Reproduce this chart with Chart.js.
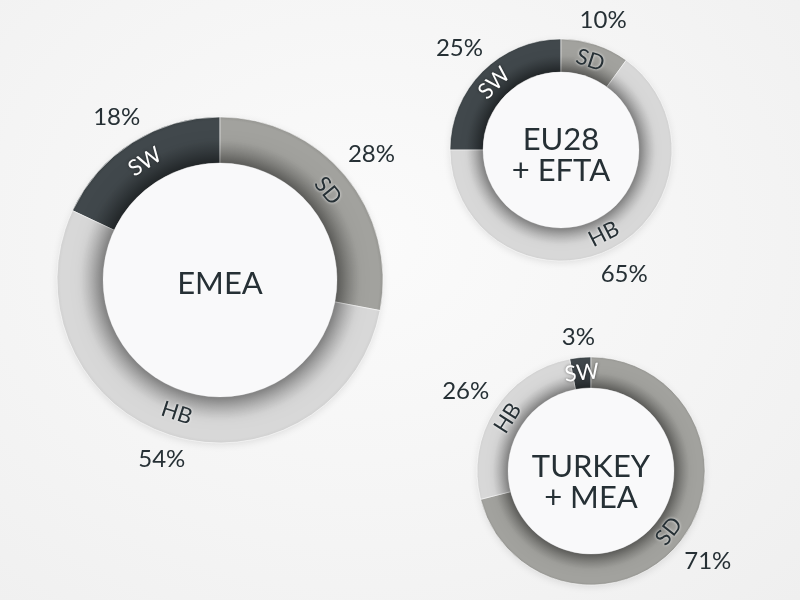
<!DOCTYPE html>
<html>
<head>
<meta charset="utf-8">
<script src="https://cdn.jsdelivr.net/npm/chart.js@4.4.1/dist/chart.umd.min.js"></script>
<style>
    html, body {
        margin: 0;
        padding: 0;
        width: 800px;
        height: 600px;
        overflow: hidden;
        background: radial-gradient(ellipse at 45% 40%, #fbfbfb 0%, #f4f4f4 60%, #efefef 100%);
    }
    .stage {
        position: relative;
        width: 800px;
        height: 600px;
    }
    .stage canvas {
        position: absolute;
        left: 0;
        top: 0;
    }
</style>
</head>
<body>
<div class="stage">
    <canvas id="emeaChart" width="800" height="600"></canvas>
    <canvas id="euChart" width="800" height="600"></canvas>
    <canvas id="turkeyChart" width="800" height="600"></canvas>
</div>
<script>
// Chart data
const segments = ['SW', 'SD', 'HB'];
const emeaShares = [18, 28, 54];
const euShares = [25, 10, 65];
const turkeyShares = [3, 71, 26];
const emeaTitle = ['EMEA'];
const euTitle = ['EU28', '+ EFTA'];
const turkeyTitle = ['TURKEY', '+ MEA'];

// Look & layout
const FONT = "Lato, 'Open Sans', sans-serif";
const TEXT_COLOR = '#263035';
const segmentColors = {
    SW: { inner: '#2f3538', mid: '#41484c', outer: '#3b4245', text: '#ffffff' },
    SD: { inner: '#80807c', mid: '#a2a29e', outer: '#959591', text: TEXT_COLOR },
    HB: { inner: '#b3b3b3', mid: '#d8d8d8', outer: '#d0d0d0', text: TEXT_COLOR }
};

/**
 * Radial gradient for a ring segment, darker towards the hole
 */
function ringGradient(context, colors, outer, inner) {
    const chart = context.chart;
    const area = chart.chartArea;
    if (!area) return colors.mid;
    const cx = (area.left + area.right) / 2;
    const cy = (area.top + area.bottom) / 2;
    const g = chart.ctx.createRadialGradient(cx, cy, inner, cx, cy, outer);
    g.addColorStop(0, colors.inner);
    g.addColorStop(0.5, colors.mid);
    g.addColorStop(0.92, colors.mid);
    g.addColorStop(1, colors.outer);
    return g;
}

/**
 * Plugin: outer shadow, centre disk, title, segment and percent labels
 */
const ringDecor = {
    id: 'ringDecor',
    beforeDatasetsDraw(chart, args, opts) {
        const { ctx, chartArea } = chart;
        const cx = (chartArea.left + chartArea.right) / 2;
        const cy = (chartArea.top + chartArea.bottom) / 2;
        ctx.save();
        ctx.shadowColor = 'rgba(0,0,0,0.12)';
        ctx.shadowBlur = 8;
        ctx.shadowOffsetY = 2;
        ctx.fillStyle = '#e0e0e0';
        ctx.beginPath();
        ctx.arc(cx, cy, opts.outer - 1, 0, Math.PI * 2);
        ctx.fill();
        ctx.restore();
    },
    afterDatasetsDraw(chart, args, opts) {
        const { ctx, chartArea } = chart;
        const cx = (chartArea.left + chartArea.right) / 2;
        const cy = (chartArea.top + chartArea.bottom) / 2;

        // centre disk casting a shadow onto the ring
        ctx.save();
        ctx.shadowColor = 'rgba(0,0,0,0.6)';
        ctx.shadowBlur = opts.outer * 0.17;
        ctx.fillStyle = '#f9f9fa';
        ctx.beginPath();
        ctx.arc(cx, cy, opts.inner, 0, Math.PI * 2);
        ctx.fill();
        ctx.restore();

        // title
        ctx.save();
        ctx.fillStyle = TEXT_COLOR;
        ctx.font = `400 ${opts.titleSize}px ${FONT}`;
        ctx.textAlign = 'center';
        ctx.textBaseline = 'middle';
        const lines = opts.title;
        const lh = opts.titleSize * 1.0;
        lines.forEach((line, i) => {
            const y = cy + opts.titleDy + (i - (lines.length - 1) / 2) * lh;
            ctx.fillText(line, cx, y);
        });
        ctx.restore();

        // segment and percent labels
        const meta = chart.getDatasetMeta(0);
        const values = chart.data.datasets[0].data;
        const ringMid = (opts.outer + opts.inner) / 2;
        meta.data.forEach((arc, i) => {
            const mid = (arc.startAngle + arc.endAngle) / 2;
            const name = chart.data.labels[i];
            const colors = segmentColors[name];

            // name along the ring
            ctx.save();
            ctx.translate(cx + Math.cos(mid) * ringMid, cy + Math.sin(mid) * ringMid);
            let rot = mid + Math.PI / 2;
            if (Math.sin(mid) > 0.05) rot -= Math.PI;
            ctx.rotate(rot);
            ctx.font = `400 22px ${FONT}`;
            ctx.textAlign = 'center';
            ctx.textBaseline = 'middle';
            if (name === 'SW') {
                ctx.shadowColor = 'rgba(0,0,0,0.5)';
            } else {
                ctx.shadowColor = 'rgba(255,255,255,0.9)';
            }
            ctx.shadowBlur = 3;
            ctx.fillStyle = colors.text;
            ctx.fillText(name, 0, 0);
            ctx.restore();

            // percentage outside the ring
            const txt = values[i] + '%';
            ctx.save();
            ctx.font = `400 24px ${FONT}`;
            const w = ctx.measureText(txt).width;
            const ext = (w / 2) * Math.abs(Math.cos(mid)) + 8.5 * Math.abs(Math.sin(mid));
            const r = opts.outer + 10 + ext;
            ctx.fillStyle = TEXT_COLOR;
            ctx.textAlign = 'center';
            ctx.textBaseline = 'middle';
            ctx.fillText(txt, cx + Math.cos(mid) * r, cy + Math.sin(mid) * r);
            ctx.restore();
        });
    }
};

/**
 * Build one ring chart centred at (cx, cy)
 */
function makeRing(canvasId, shares, title, cx, cy, outer, inner, titleSize, titleDy) {
    const el = document.getElementById(canvasId);
    const W = 800, H = 600;
    return new Chart(el, {
        type: 'doughnut',
        data: {
            labels: segments,
            datasets: [{
                data: shares,
                backgroundColor: (context) => {
                    const name = segments[context.dataIndex];
                    return ringGradient(context, segmentColors[name], outer, inner);
                },
                borderColor: 'rgba(255,255,255,0.55)',
                borderWidth: 1,
                hoverOffset: 0
            }]
        },
        options: {
            responsive: false,
            animation: false,
            events: [],
            rotation: -shares[0] * 3.6,
            radius: outer,
            cutout: (inner / outer * 100) + '%',
            layout: {
                padding: {
                    left: cx - outer,
                    right: W - cx - outer,
                    top: cy - outer,
                    bottom: H - cy - outer
                }
            },
            plugins: {
                legend: { display: false },
                tooltip: { enabled: false },
                ringDecor: { outer, inner, title, titleSize, titleDy }
            }
        },
        plugins: [ringDecor]
    });
}

makeRing('emeaChart', emeaShares, emeaTitle, 220, 280, 163, 117, 31, 4);
makeRing('euChart', euShares, euTitle, 561, 150, 111, 78, 31, 5);
makeRing('turkeyChart', turkeyShares, turkeyTitle, 591, 471, 114, 83, 31, 11);
</script>
</body>
</html>
